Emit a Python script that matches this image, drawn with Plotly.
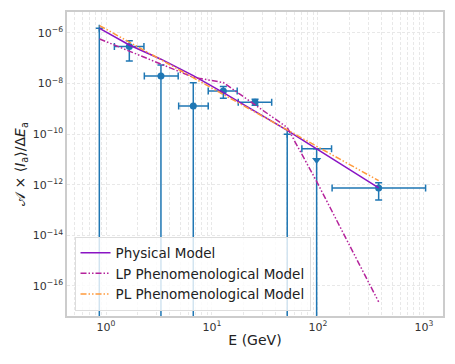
import plotly.graph_objects as go

# ---- data ----
# detected points
det_E = [1.66, 3.30, 6.66, 12.8, 25.5, 374.0]
det_E_lo = [1.20, 2.30, 4.85, 9.22, 17.7, 136.0]
det_E_hi = [2.28, 4.80, 9.22, 17.3, 36.6, 1037.0]
det_flux = [2.95e-7, 2.0e-8, 1.30e-9, 5.1e-9, 1.82e-9, 7.5e-13]
det_flux_lo = [7.8e-8, 0.0, 0.0, 2.6e-9, 1.39e-9, 2.5e-13]
det_flux_hi = [4.97e-7, 5.4e-8, 1.09e-8, 7.6e-9, 2.4e-9, 1.21e-12]

# upper limits (bar drawn from the limit value down)
lim_E = [0.865, 51.3, 97.2]
lim_E_lo = [0.865, 51.3, 70.5]
lim_E_hi = [0.865, 51.3, 134.4]
lim_flux = [1.53e-6, 1.0e-10, 2.67e-11]
arrow_E = [97.2]
arrow_flux = [9.5e-12]

# model curves, evaluated at the bin energies
model_E = [0.87, 1.66, 3.30, 6.66, 12.8, 25.5, 51.3, 97.2, 374.0]
phys_flux = [1.53e-6, 3.36e-7, 9.2e-8, 2.05e-8, 4.4e-9, 7.9e-10, 1.40e-10, 2.6e-11, 7.5e-13]
lp_flux = [5.8e-7, 1.96e-7, 5.96e-8, 1.77e-8, 1.10e-8, 1.49e-9, 1.84e-10, 1.35e-12, 2.33e-17]
pl_flux = [1.96e-6, 4.29e-7, 8.65e-8, 1.69e-8, 3.71e-9, 7.46e-10, 1.47e-10, 3.33e-11, 1.45e-12]

x_tick_vals = [1, 10, 100, 1000]
x_tick_labels = ["10<sup>0</sup>", "10<sup>1</sup>", "10<sup>2</sup>", "10<sup>3</sup>"]
y_tick_vals = [1e-16, 1e-14, 1e-12, 1e-10, 1e-8, 1e-6]
y_tick_labels = ["10<sup>\u221216</sup>", "10<sup>\u221214</sup>", "10<sup>\u221212</sup>",
                 "10<sup>\u221210</sup>", "10<sup>\u22128</sup>", "10<sup>\u22126</sup>"]

BLUE = "#1f77b4"
FONT = "DejaVu Sans"

fig = go.Figure()

# upper-limit bars
fig.add_trace(go.Scatter(
    x=lim_E, y=lim_flux, mode="markers",
    marker=dict(size=1, color="rgba(0,0,0,0)"),
    error_y=dict(type="data", symmetric=False,
                 array=[0 for _ in lim_flux], arrayminus=list(lim_flux),
                 color=BLUE, thickness=1.5, width=3.5),
    error_x=dict(type="data", symmetric=False,
                 array=[h - e for h, e in zip(lim_E_hi, lim_E)],
                 arrayminus=[e - l for e, l in zip(lim_E, lim_E_lo)],
                 color=BLUE, thickness=1.5, width=3.5),
    showlegend=False, hoverinfo="skip"))

fig.add_trace(go.Scatter(
    x=arrow_E, y=arrow_flux, mode="markers",
    marker=dict(symbol="triangle-down", size=8, color=BLUE),
    showlegend=False))

# detections
fig.add_trace(go.Scatter(
    x=det_E, y=det_flux, mode="markers",
    marker=dict(size=7, color=BLUE),
    error_y=dict(type="data", symmetric=False,
                 array=[h - f for h, f in zip(det_flux_hi, det_flux)],
                 arrayminus=[f - l for f, l in zip(det_flux, det_flux_lo)],
                 color=BLUE, thickness=1.5, width=3.5),
    error_x=dict(type="data", symmetric=False,
                 array=[h - e for h, e in zip(det_E_hi, det_E)],
                 arrayminus=[e - l for e, l in zip(det_E, det_E_lo)],
                 color=BLUE, thickness=1.5, width=3.5),
    showlegend=False))

# models
DASHDOT = "6px,2px,1.5px,2px,1.5px,2px"
fig.add_trace(go.Scatter(x=model_E, y=phys_flux, mode="lines", name="Physical Model",
                         line=dict(color="#8a14c4", width=1.5)))
fig.add_trace(go.Scatter(x=model_E, y=lp_flux, mode="lines", name="LP Phenomenological Model",
                         line=dict(color="#b5239c", width=1.5, dash=DASHDOT)))
fig.add_trace(go.Scatter(x=model_E, y=pl_flux, mode="lines", name="PL Phenomenological Model",
                         line=dict(color="#ff9a3c", width=1.5, dash=DASHDOT)))

# minor x grid positions (2..9 subdivisions of each decade)
x_minor = []
for d in range(-1, 4):
    for k in range(2, 10):
        x_minor.append(k * 10.0 ** d)

GRID = "#e8e8e8"
GDASH = "3px,2px"
fig.update_xaxes(type="log", range=[-0.368, 3.18], automargin=False,
                 tickmode="array", tickvals=x_tick_vals, ticktext=x_tick_labels,
                 showgrid=True, gridcolor=GRID, griddash=GDASH, gridwidth=0.8,
                 minor=dict(tickmode="array", tickvals=x_minor, showgrid=True,
                            gridcolor=GRID, griddash=GDASH, gridwidth=0.8, ticks=""),
                 showline=True, mirror=True, linecolor="#cccccc", linewidth=1.5,
                 ticks="", zeroline=False,
                 tickfont=dict(family=FONT, size=11, color="#333"),
                 title=dict(text="E (GeV)", font=dict(family=FONT, size=14, color="#222"), standoff=2))
fig.update_yaxes(type="log", range=[-17.19, -5.17], automargin=False,
                 tickmode="array", tickvals=y_tick_vals, ticktext=y_tick_labels,
                 showgrid=True, gridcolor=GRID, griddash=GDASH, gridwidth=0.8,
                 showline=True, mirror=True, linecolor="#cccccc", linewidth=1.5,
                 ticks="", zeroline=False,
                 tickfont=dict(family=FONT, size=11, color="#333"),
                 title=dict(text="\U0001D49C \u00d7 \u27e8<i>I</i><sub>a</sub>\u27e9/\u0394<i>E</i><sub>a</sub>",
                            font=dict(family=FONT, size=14, color="#222"), standoff=4))

# page body has an 8px margin, so the figure is offset by 8px; compensate in margins
fig.update_layout(
    width=455, height=364,
    margin=dict(l=59, r=20, t=4, b=56),
    paper_bgcolor="white", plot_bgcolor="white",
    font=dict(family=FONT),
    legend=dict(x=0.02, y=0.018, xanchor="left", yanchor="bottom",
                bgcolor="rgba(255,255,255,0.8)", bordercolor="#dddddd", borderwidth=1,
                font=dict(family=FONT, size=13.5, color="#222"),
                tracegroupgap=0, itemwidth=30),
)

fig.write_html("out.html")
